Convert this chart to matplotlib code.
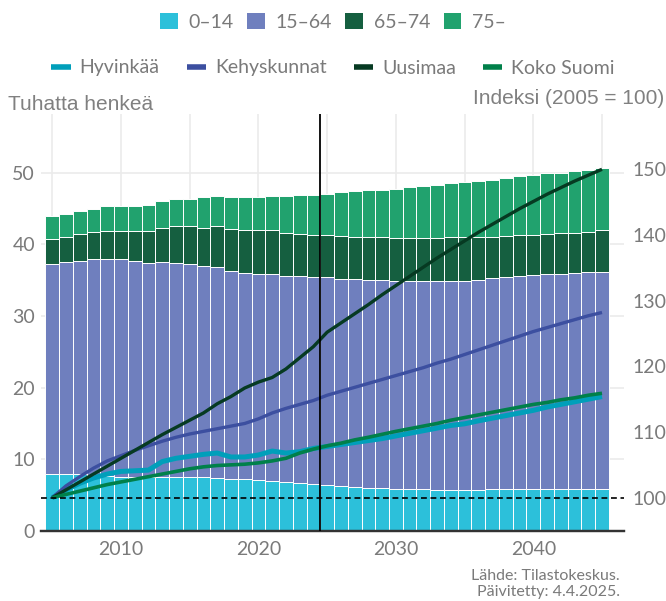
import matplotlib
matplotlib.use("Agg")
import matplotlib.pyplot as plt
from matplotlib.lines import Line2D
from matplotlib.patches import Patch

# vuodet ja ikaryhmat (tuhatta henkea)
vuodet = list(range(2005, 2046))

ika_0_14 = [7.9, 8.0, 7.9, 7.8, 7.7, 7.6, 7.55, 7.5, 7.5, 7.5,
            7.5, 7.5, 7.4, 7.3, 7.2, 7.1, 7.0, 6.8, 6.7, 6.6,
            6.4, 6.3, 6.2, 6.05, 5.95, 5.85, 5.8, 5.8, 5.75, 5.75,
            5.75, 5.75, 5.8, 5.8, 5.8, 5.8, 5.8, 5.8, 5.8, 5.8, 5.8]
ika_15_64 = [29.4, 29.55, 29.8, 30.2, 30.3, 30.4, 30.15, 29.95, 30.05, 29.95,
             29.8, 29.55, 29.5, 29.05, 28.85, 28.8, 28.9, 28.85, 28.85, 28.9,
             29.05, 28.9, 28.95, 29.0, 29.05, 29.1, 29.15, 29.05, 29.1, 29.1,
             29.2, 29.35, 29.5, 29.65, 29.8, 29.9, 30.0, 30.1, 30.2, 30.3, 30.4]
ika_65_74 = [3.5, 3.55, 3.7, 3.8, 3.9, 3.9, 4.2, 4.45, 4.8, 5.05,
             5.2, 5.3, 5.6, 5.85, 6.0, 6.05, 6.05, 6.0, 5.95, 5.85,
             5.8, 5.95, 5.9, 5.95, 6.0, 5.95, 5.9, 6.05, 6.1, 6.15,
             6.1, 5.95, 5.8, 5.75, 5.65, 5.65, 5.65, 5.65, 5.65, 5.7, 5.75]
ika_75 = [3.1, 3.2, 3.2, 3.2, 3.4, 3.5, 3.5, 3.65, 3.75, 3.9,
          3.9, 4.2, 4.2, 4.35, 4.5, 4.6, 4.85, 5.15, 5.45, 5.6,
          5.85, 6.2, 6.4, 6.55, 6.65, 6.9, 7.1, 7.3, 7.4, 7.55,
          7.7, 7.85, 7.95, 8.1, 8.25, 8.3, 8.45, 8.45, 8.55, 8.65, 8.65]

# indeksit (2005 = 100)
hyvinkaa = [100, 101.2, 102.2, 103.0, 103.6, 104.0, 104.1, 104.2, 105.5, 106.0,
            106.3, 106.6, 106.8, 106.2, 106.2, 106.5, 107.1, 106.8, 107.0, 107.5,
            107.8, 108.1, 108.4, 108.7, 109.0, 109.4, 109.8, 110.2, 110.6, 111.0,
            111.25, 111.7, 112.1, 112.5, 112.9, 113.3, 113.8, 114.2, 114.6, 115.0, 115.4]
kehyskunnat = [100, 101.8, 103.2, 104.5, 105.6, 106.4, 107.2, 107.9, 108.6, 109.2,
               109.7, 110.1, 110.5, 110.9, 111.3, 112.0, 112.9, 113.6, 114.2, 114.8,
               115.6, 116.2, 116.8, 117.4, 118.0, 118.6, 119.2, 119.8, 120.5, 121.1,
               121.8, 122.5, 123.2, 123.9, 124.6, 125.3, 125.9, 126.5, 127.1, 127.7, 128.2]
uusimaa = [100, 101.2, 102.4, 103.6, 104.8, 106.0, 107.2, 108.4, 109.6, 110.7,
           111.8, 112.9, 114.3, 115.4, 116.7, 117.6, 118.3, 119.6, 121.3, 123.0,
           125.2, 126.6, 128.0, 129.4, 130.9, 132.3, 133.7, 135.1, 136.5, 137.8,
           139.1, 140.4, 141.6, 142.8, 144.0, 145.1, 146.2, 147.2, 148.2, 149.1, 150.0]
koko_suomi = [100, 100.5, 101.0, 101.5, 102.0, 102.4, 102.8, 103.2, 103.6, 104.0,
              104.4, 104.7, 104.9, 105.0, 105.1, 105.3, 105.6, 106.0, 106.8, 107.4,
              107.9, 108.3, 108.8, 109.2, 109.65, 110.1, 110.5, 110.9, 111.3, 111.8,
              112.2, 112.6, 113.0, 113.4, 113.8, 114.2, 114.5, 114.9, 115.2, 115.6, 115.9]

ikaryhmat = ["0–14", "15–64", "65–74", "75–"]
alueet = ["Hyvinkää", "Kehyskunnat", "Uusimaa", "Koko Suomi"]
vuosi_tikit = list(range(2005, 2046, 5))
vuosi_nimet = ["", "2010", "", "2020", "", "2030", "", "2040", ""]

pylvasvarit = ["#2cc0da", "#6f7fbe", "#155f40", "#21a26e"]
viivavarit = ["#009fba", "#3c4fa0", "#063a22", "#00804a"]
harmaa = "#7a7a7a"
fontti = "Lato"

fig = plt.figure(figsize=(6.66, 6.01), dpi=100)
ax = fig.add_axes([40.6 / 666, 1 - 531 / 601, (624 - 40.6) / 666, (531 - 114) / 601])
ax2 = ax.twinx()

pohja = [0.0] * len(vuodet)
for sarja, vari in zip([ika_0_14, ika_15_64, ika_65_74, ika_75], pylvasvarit):
    ax.bar(vuodet, sarja, width=1.0, bottom=pohja, color=vari,
           edgecolor="white", linewidth=0.7)
    pohja = [p + s for p, s in zip(pohja, sarja)]

ax.set_xlim(2004.15, 2046.6)
ax.set_ylim(0, 58.2)
ax.set_yticks(range(0, 60, 10))
ax.set_xticks(vuosi_tikit)
ax.set_xticklabels(vuosi_nimet)
ax.grid(color="#ebebeb", linewidth=1.2)
ax.set_axisbelow(True)

for sarja, vari, lw in zip([hyvinkaa, kehyskunnat, uusimaa, koko_suomi], viivavarit,
                           [3.6, 2.4, 2.4, 2.6]):
    ax2.plot(vuodet, sarja, color=vari, linewidth=lw, solid_capstyle="butt", zorder=3)

ax2.axhline(100, color="black", linestyle=(0, (3.5, 2.2)), linewidth=1.2, zorder=4)
ax2.axvline(2024.5, color="black", linewidth=1.3, zorder=5)
ax2.set_ylim(94.93, 158.42)
ax2.set_yticks(range(100, 160, 10))

for a in (ax, ax2):
    for s in ("top", "left", "right"):
        a.spines[s].set_visible(False)
    a.spines["bottom"].set_color("#333333")
    a.spines["bottom"].set_linewidth(1.6)
    a.tick_params(length=0, labelsize=14, labelcolor=harmaa)
    for t in a.get_xticklabels() + a.get_yticklabels():
        t.set_family(fontti)
ax.tick_params(axis="y", pad=4)
ax.tick_params(axis="x", pad=7)
ax2.tick_params(axis="y", pad=6)

fig.text(8 / 666, 1 - 104 / 601, "Tuhatta henkeä", ha="left", va="center",
         fontsize=15, color="#808080", family="Liberation Sans")
fig.text(664 / 666, 1 - 98 / 601, "Indeksi (2005 = 100)", ha="right", va="center",
         fontsize=15, color="#808080", family="Liberation Sans")

kahvat1 = [Patch(facecolor=v, edgecolor="none", label=n) for v, n in zip(pylvasvarit, ikaryhmat)]
kahvat2 = [Line2D([], [], color=v, linewidth=4, solid_capstyle="butt", label=n)
           for v, n in zip(viivavarit, alueet)]
prop = {"family": fontti, "size": 14}
fig.legend(handles=kahvat1, loc="center", bbox_to_anchor=(0.5, 1 - 22 / 601), ncol=4,
           frameon=False, prop=prop, labelcolor=harmaa, handlelength=0.9,
           handleheight=0.9, handletextpad=0.55, columnspacing=0.7)
fig.legend(handles=kahvat2, loc="center", bbox_to_anchor=(0.5, 1 - 68 / 601), ncol=4,
           frameon=False, prop=prop, labelcolor=harmaa, handlelength=1.0,
           handletextpad=0.45, columnspacing=1.4)

fig.text(620 / 666, 1 - 576 / 601, "Lähde: Tilastokeskus.", ha="right", va="center",
         fontsize=11.5, color=harmaa, family=fontti)
fig.text(620 / 666, 1 - 592 / 601, "Päivitetty: 4.4.2025.", ha="right", va="center",
         fontsize=11.5, color=harmaa, family=fontti)

fig.savefig("out.png", dpi=100)
